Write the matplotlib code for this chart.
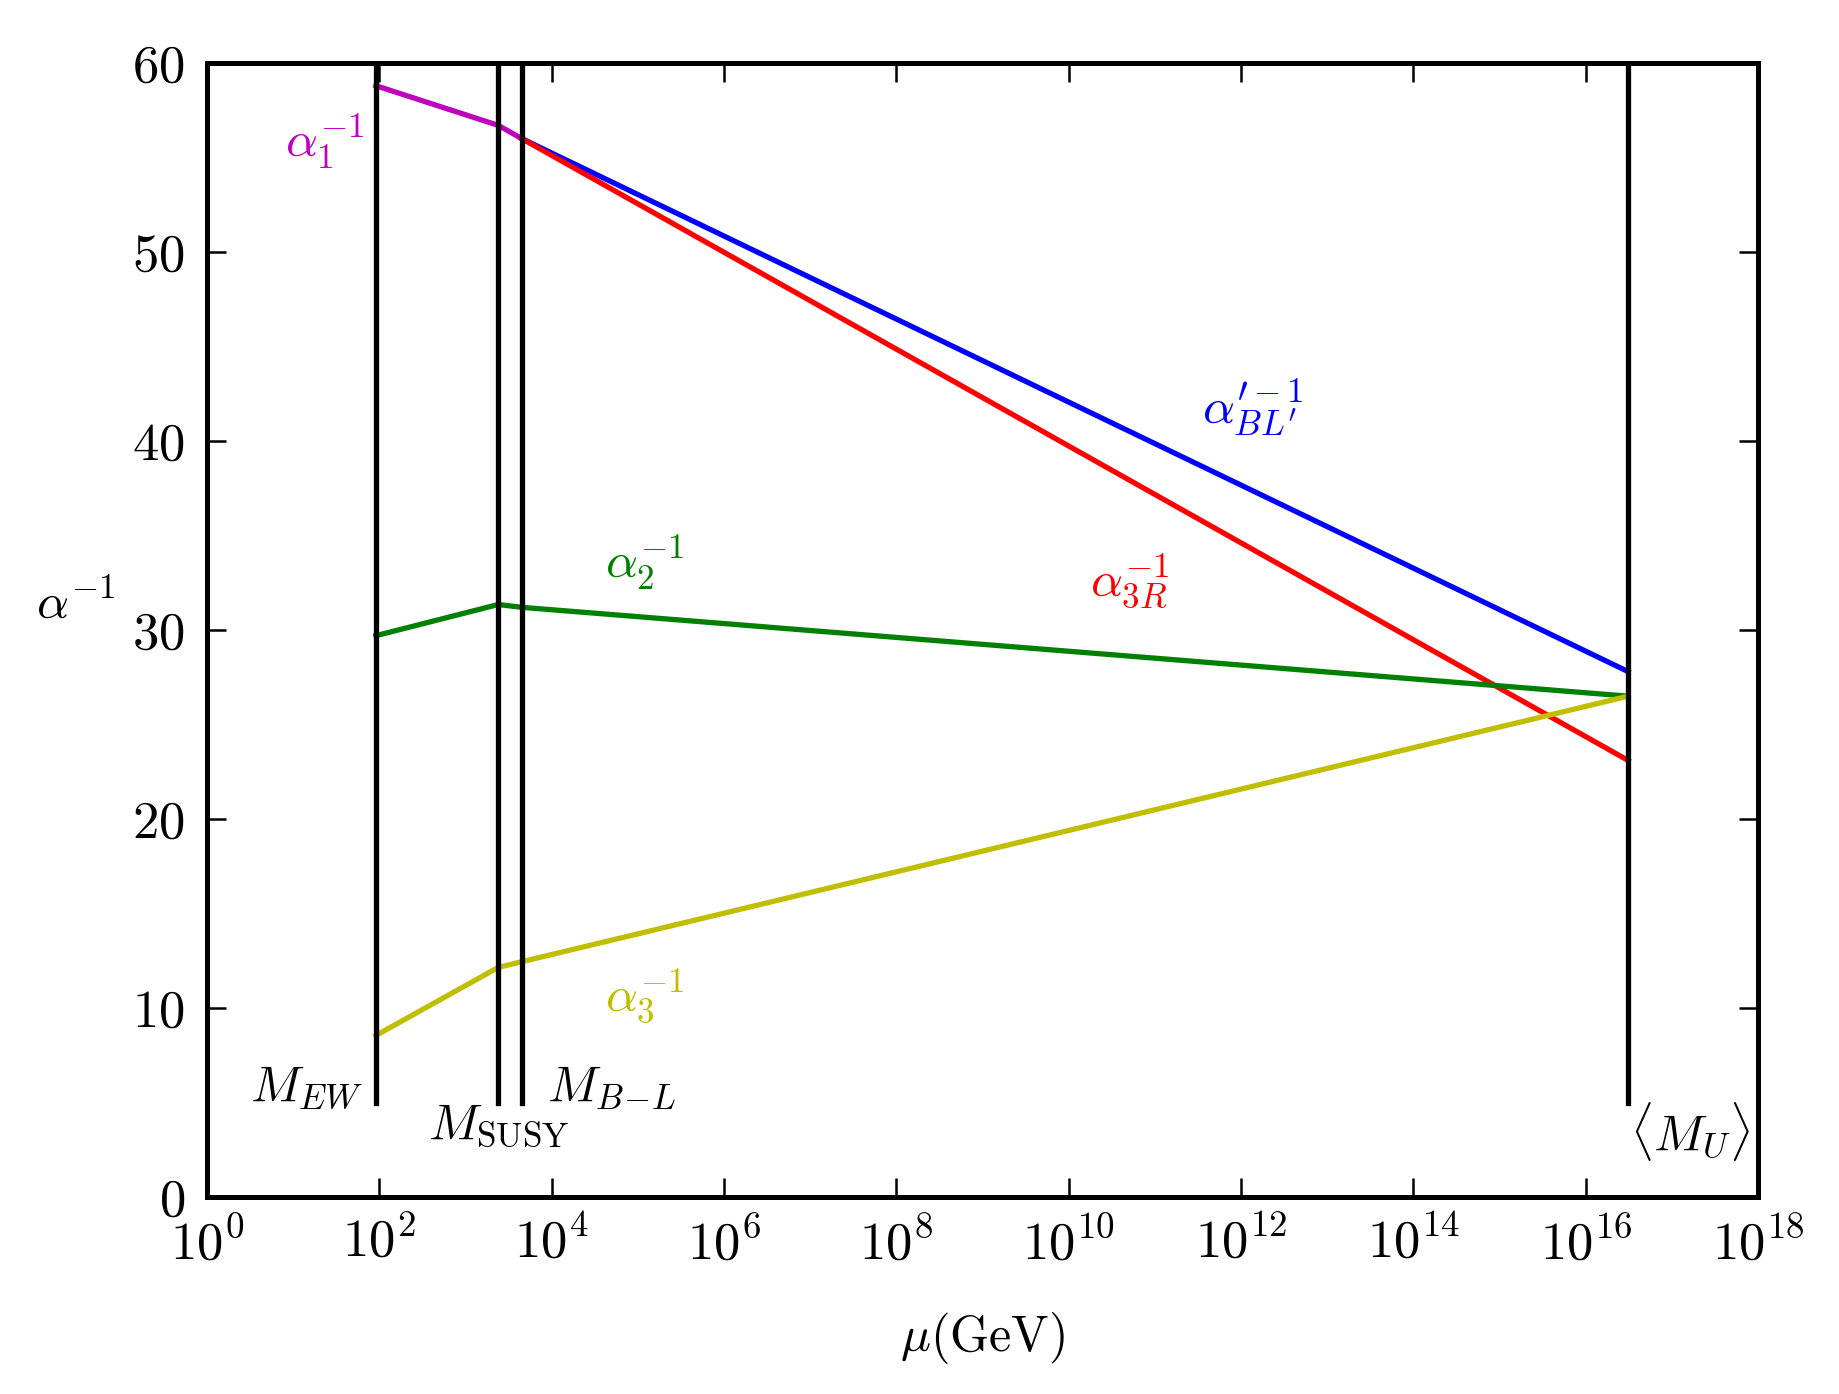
import numpy as np
import matplotlib
matplotlib.use('Agg')
import matplotlib.pyplot as plt
from matplotlib import rcParams

rcParams['mathtext.fontset'] = 'cm'
rcParams['font.family'] = 'serif'
rcParams['font.serif'] = ['cmr10', 'DejaVu Serif']
rcParams['axes.formatter.use_mathtext'] = True

# energy scales (GeV)
m_ew = 91.19
m_susy = 2.4e3
m_bl = 4.5e3
m_u = 3.1e16
scales = [m_ew, m_susy, m_bl, m_u]

# inverse couplings
mu_1 = [m_ew, m_susy, m_bl]
alpha1_inv = [58.8, 56.7, 56.0]
mu_high = [m_bl, m_u]
alphaBL_inv = [56.0, 27.8]
alpha3R_inv = [56.0, 23.1]
mu_all = [m_ew, m_susy, m_bl, m_u]
alpha2_inv = [29.7, 31.35, 31.2, 26.5]
alpha3_inv = [8.55, 12.15, 12.45, 26.5]

fig = plt.figure(figsize=(9.2, 6.97), dpi=200)
ax = fig.add_axes([0.1125, 0.1413, 0.843, 0.8135])

lw = 1.9
ax.plot(mu_1, alpha1_inv, color=(0.75, 0, 0.75), lw=lw)
ax.plot(mu_high, alphaBL_inv, color='b', lw=lw)
ax.plot(mu_high, alpha3R_inv, color='r', lw=lw)
ax.plot(mu_all, alpha2_inv, color=(0, 0.5, 0), lw=lw)
ax.plot(mu_all, alpha3_inv, color=(0.75, 0.75, 0), lw=lw)

for s in scales:
    ax.plot([s, s], [5, 60], color='k', lw=lw)

ax.set_xscale('log')
ax.set_xlim(1, 1e18)
ax.set_ylim(0, 60)
ax.set_xticks([10.0**k for k in range(0, 19, 2)])
ax.xaxis.set_minor_locator(matplotlib.ticker.NullLocator())
ax.set_yticks(range(0, 61, 10))

for sp in ax.spines.values():
    sp.set_linewidth(1.8)
ax.tick_params(which='major', direction='in', length=7, width=0.9,
               top=True, right=True, labelsize=19)
ax.tick_params(axis='x', pad=7)
ax.tick_params(axis='y', pad=8)

fs = 18
ax.text(10**0.905, 55.0, r'$\alpha_1^{-1}$', color=(0.75, 0, 0.75), fontsize=fs)
ax.text(10**11.55, 40.95, r'$\alpha^{\prime-1}_{BL^\prime}$', color='b', fontsize=fs)
ax.text(10**10.25, 31.85, r'$\alpha_{3R}^{-1}$', color='r', fontsize=fs)
ax.text(10**4.62, 32.75, r'$\alpha_2^{-1}$', color=(0, 0.5, 0), fontsize=fs)
ax.text(10**4.62, 9.9, r'$\alpha_3^{-1}$', color=(0.75, 0.75, 0), fontsize=fs)

ax.text(10**0.5, 5.13, r'$M_{EW}$', fontsize=fs)
ax.text(10**2.565, 3.12, r'$M_{\rm SUSY}$', fontsize=fs)
ax.text(10**3.95, 5.13, r'$M_{B\!-\!L}$', fontsize=fs)
ax.text(10**16.51, 2.5, r'$\langle M_U\rangle$', fontsize=fs)

ax.set_xlabel(r'$\mu(\rm GeV)$', fontsize=fs, va='top')
ax.xaxis.set_label_coords(0.5, -0.10)
ax.set_ylabel(r'$\alpha^{-1}$', fontsize=fs, rotation=0, ha='center', va='center')
ax.yaxis.set_label_coords(-0.085, 0.523)

fig.savefig('out.png', dpi=200)
